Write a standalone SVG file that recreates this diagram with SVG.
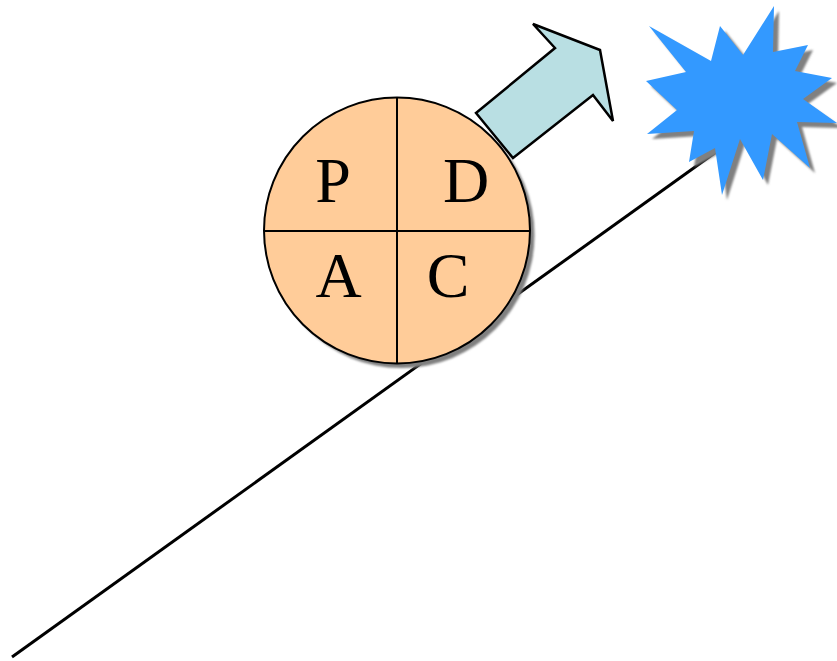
<svg xmlns="http://www.w3.org/2000/svg" width="837" height="661" viewBox="0 0 837 661">
<defs>
<filter id="blur" x="-10%" y="-10%" width="120%" height="120%"><feGaussianBlur stdDeviation="0.8"/></filter>
</defs>
<style>
.lbl{font-family:"Liberation Serif","Times New Roman",serif;font-size:64px;fill:#000;text-anchor:middle}
.edge{stroke:#000;stroke-width:2;fill:none}
</style>
<rect width="837" height="661" fill="#fff"/>
<g id="connectors">
<line x1="12" y1="657" x2="716" y2="152" stroke="#000" stroke-width="3"/>
</g>
<g id="pdca">
<circle cx="401.5" cy="235" r="133" fill="#808080" filter="url(#blur)"/>
<circle cx="397" cy="230.5" r="133" fill="#FFCC99" stroke="#000" stroke-width="2"/>
<line class="edge" x1="397" y1="97.5" x2="397" y2="363.5"/>
<line class="edge" x1="264" y1="231" x2="530" y2="231"/>
<text class="lbl" x="333" y="202">P</text>
<text class="lbl" x="466" y="202">D</text>
<text class="lbl" x="338.5" y="297">A</text>
<text class="lbl" x="448" y="297">C</text>
</g>
<g id="arrow">
<polygon points="476,113 555,48 533,24 600,50 613,121 593,95 513,158" fill="#B9DFE3" stroke="#000" stroke-width="2.5" stroke-linejoin="miter"/>
</g>
<g id="star">
<polygon transform="translate(5,5)" filter="url(#blur)" fill="#808080" points="649,26 711,61 720,26 743,55 774,6 773,52 808,45 795,71 832,78 803,99 837,123 797,122 810,168 772,134 763,180 740,139 722,195 715,148 689,162 694,131 647,134 677,110 646,81 686,72"/>
<polygon fill="#3399FF" points="649,26 711,61 720,26 743,55 774,6 773,52 808,45 795,71 832,78 803,99 837,123 797,122 810,168 772,134 763,180 740,139 722,195 715,148 689,162 694,131 647,134 677,110 646,81 686,72"/>
</g>
</svg>
